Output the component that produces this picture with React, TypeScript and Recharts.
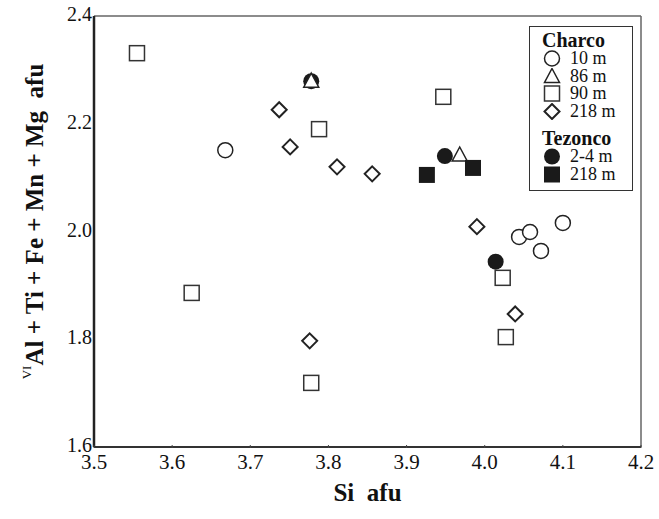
import { ScatterChart, Scatter, XAxis, YAxis, ReferenceLine, Label } from 'recharts';

// Charco samples
const charco10m = [
  { x: 3.668, y: 2.151 },
  { x: 4.044, y: 1.990 },
  { x: 4.058, y: 1.999 },
  { x: 4.072, y: 1.964 },
  { x: 4.100, y: 2.016 },
];
const charco86m = [
  { x: 3.778, y: 2.279 },
  { x: 3.968, y: 2.142 },
];
const charco90m = [
  { x: 3.555, y: 2.331 },
  { x: 3.788, y: 2.190 },
  { x: 3.947, y: 2.250 },
  { x: 3.625, y: 1.886 },
  { x: 3.778, y: 1.719 },
  { x: 4.023, y: 1.914 },
  { x: 4.027, y: 1.804 },
];
const charco218m = [
  { x: 3.737, y: 2.226 },
  { x: 3.751, y: 2.157 },
  { x: 3.811, y: 2.120 },
  { x: 3.856, y: 2.107 },
  { x: 3.990, y: 2.009 },
  { x: 3.776, y: 1.797 },
  { x: 4.039, y: 1.847 },
];
// Tezonco samples
const tezonco24m = [
  { x: 3.778, y: 2.279 },
  { x: 3.949, y: 2.140 },
  { x: 4.014, y: 1.944 },
];
const tezonco218m = [
  { x: 3.926, y: 2.105 },
  { x: 3.985, y: 2.118 },
];

const xTicks = [3.5, 3.6, 3.7, 3.8, 3.9, 4.0, 4.1, 4.2];
const yTicks = [1.6, 1.8, 2.0, 2.2, 2.4];

const FONT = '"Liberation Serif", "DejaVu Serif", serif';
const INK = '#222';

const OpenCircle = ({ cx, cy }: any) => (
  <circle cx={cx} cy={cy} r={7.5} fill="#fff" stroke={INK} strokeWidth={1.5} />
);
const OpenTriangle = ({ cx, cy }: any) => (
  <path d={`M${cx},${cy - 8} L${cx + 7.5},${cy + 6} L${cx - 7.5},${cy + 6} Z`} fill="#fff" stroke={INK} strokeWidth={1.5} />
);
const OpenSquare = ({ cx, cy }: any) => (
  <rect x={cx - 7.5} y={cy - 7.5} width={15} height={15} fill="#fff" stroke="#333" strokeWidth={1.5} />
);
const OpenDiamond = ({ cx, cy }: any) => (
  <path d={`M${cx},${cy - 7.5} L${cx + 7.5},${cy} L${cx},${cy + 7.5} L${cx - 7.5},${cy} Z`} fill="#fff" stroke={INK} strokeWidth={2} />
);
const FilledCircle = ({ cx, cy }: any) => (
  <circle cx={cx} cy={cy} r={8} fill="#1a1a1a" />
);
const FilledSquare = ({ cx, cy }: any) => (
  <rect x={cx - 8} y={cy - 8} width={16} height={16} fill="#1a1a1a" />
);

// x tick: label below axis plus a tiny inward tick mark
const XTick = ({ x, y, payload }: any) => (
  <g>
    <line x1={x} x2={x} y1={y - 6} y2={y - 9} stroke="#444" strokeWidth={1} />
    <text x={x} y={y} dy="0.72em" textAnchor="middle" fontFamily={FONT} fontSize={21} fill="#111">
      {Number(payload.value).toFixed(1)}
    </text>
  </g>
);

const YTitle = ({ viewBox }: any) => {
  const cx = viewBox.x;
  const cy = viewBox.y + viewBox.height / 2 - 10;
  return (
    <text
      x={cx}
      y={cy}
      transform={`rotate(-90 ${cx} ${cy})`}
      textAnchor="middle"
      dominantBaseline="central"
      fontFamily={FONT}
      fontWeight="bold"
      fontSize={25}
      fill="#111"
    >
      <tspan fontSize={13} fontWeight="normal" dy={-8}>VI</tspan>
      <tspan dy={8}>Al + Ti + Fe + Mn + Mg{'\u00a0\u00a0'}afu</tspan>
    </text>
  );
};

const legendItems = [
  { head: 'Charco' },
  { label: '10 m', Shape: OpenCircle },
  { label: '86 m', Shape: OpenTriangle },
  { label: '90 m', Shape: OpenSquare },
  { label: '218 m', Shape: OpenDiamond },
  { head: 'Tezonco' },
  { label: '2-4 m', Shape: FilledCircle },
  { label: '218 m', Shape: FilledSquare },
];

export default function App() {
  return (
    <div style={{ position: 'absolute', left: 0, top: 0, width: 659, height: 519, background: '#fff' }}>
      <ScatterChart width={659} height={519} margin={{ top: 16, right: 18, bottom: 42, left: 34 }}>
        <XAxis
          type="number"
          dataKey="x"
          domain={[3.5, 4.2]}
          ticks={xTicks}
          allowDataOverflow
          height={30}
          tickSize={0}
          tickMargin={7}
          tickLine={false}
          tick={<XTick />}
          axisLine={{ stroke: '#333', strokeWidth: 2 }}
        >
          <Label
            value={'Si\u00a0\u00a0afu'}
            position="bottom"
            offset={6}
            style={{ fontFamily: FONT, fontWeight: 'bold', fontSize: 25, fill: '#111' }}
          />
        </XAxis>
        <YAxis
          type="number"
          dataKey="y"
          domain={[1.6, 2.4]}
          ticks={yTicks}
          allowDataOverflow
          width={60}
          tickSize={0}
          tickMargin={2}
          tickLine={false}
          tickFormatter={(v: number) => v.toFixed(1)}
          tick={{ fontFamily: FONT, fontSize: 20, fill: '#111', dy: -2 }}
          axisLine={{ stroke: '#222', strokeWidth: 2.5 }}
          label={<YTitle />}
        />
        <ReferenceLine y={2.4} stroke="#666" strokeWidth={1.5} />
        <ReferenceLine x={4.2} stroke="#666" strokeWidth={1.5} />
        <Scatter data={charco10m} shape={<OpenCircle />} isAnimationActive={false} />
        <Scatter data={tezonco24m} shape={<FilledCircle />} isAnimationActive={false} />
        <Scatter data={charco86m} shape={<OpenTriangle />} isAnimationActive={false} />
        <Scatter data={charco90m} shape={<OpenSquare />} isAnimationActive={false} />
        <Scatter data={charco218m} shape={<OpenDiamond />} isAnimationActive={false} />
        <Scatter data={tezonco218m} shape={<FilledSquare />} isAnimationActive={false} />
      </ScatterChart>
      <div
        style={{
          position: 'absolute',
          left: 529,
          top: 26,
          width: 104,
          height: 165,
          border: '1.5px solid #333',
          background: '#fff',
          fontFamily: FONT,
          color: '#111',
          boxSizing: 'border-box',
          paddingTop: 3,
        }}
      >
        {legendItems.map((it, i) =>
          it.head ? (
            <div key={i} style={{ fontWeight: 'bold', fontSize: 20, lineHeight: '20px', paddingLeft: 12, marginTop: i === 0 ? 0 : 8 }}>
              {it.head}
            </div>
          ) : (
            <div key={i} style={{ display: 'flex', alignItems: 'center', height: 17.5, fontSize: 18, lineHeight: '17px' }}>
              <svg width={40} height={17} style={{ flexShrink: 0 }}>
                {it.Shape && <it.Shape cx={22} cy={8.5} />}
              </svg>
              <span>{it.label}</span>
            </div>
          ),
        )}
      </div>
    </div>
  );
}
